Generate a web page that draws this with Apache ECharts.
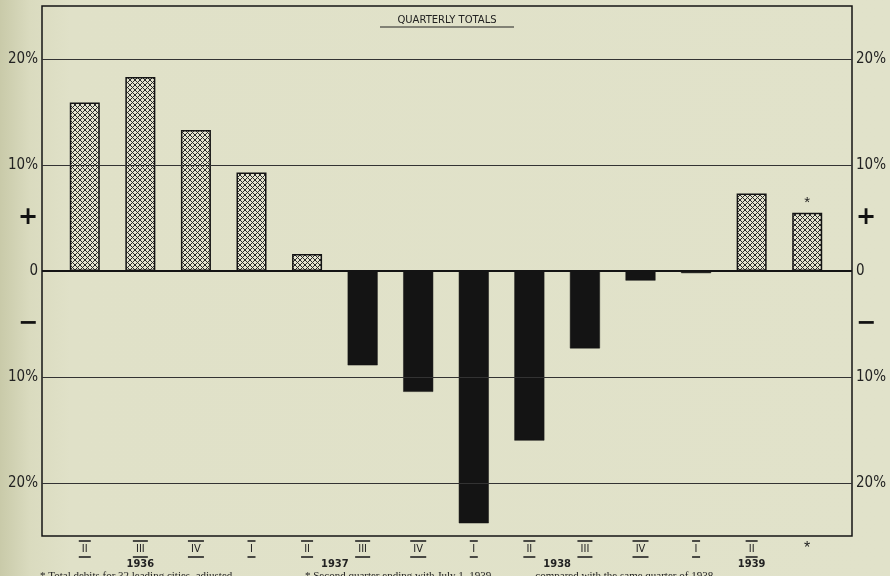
<!DOCTYPE html>
<html>
<head>
<meta charset="utf-8">
<script src="https://cdn.jsdelivr.net/npm/echarts@6/dist/echarts.min.js"></script>
<style>
  html, body { margin: 0; padding: 0; }
  body { background: linear-gradient(to right, #c9caa9 0px, #dadbbf 30px, #e0e1c8 70px, #e1e2ca 100%); }
  #chart { width: 890px; height: 576px; }
</style>
</head>
<body>
<div id="chart"></div>
<script>
// quarters from II-1936 to the starred estimate
const quarters = ['II', 'III', 'IV', 'I', 'II', 'III', 'IV', 'I', 'II', 'III', 'IV', 'I', 'II', '*']
const changes = [15.9, 18.3, 13.3, 9.3, 1.6, -8.9, -11.4, -23.8, -16.0, -7.3, -0.9, -0.2, 7.3, 5.5]
const starIndex = 13
// year label spans (first and last category index under the label)
const years = ['1936', '1937', '1938', '1939']
const yearSpans = [[1, 1], [4, 5], [8, 9], [12, 12]]
const gridValues = [20, 10, -10, -20]
const tickText = { 20: '20%', 10: '10%', 5: '{s|+}', 0: '0', '-5': '{s|−}', '-10': '10%', '-20': '20%' }

const ink = '#141414'
const barW = { I: 8, II: 12, III: 15, IV: 16 }

// crosshatch fill for the positive bars
function hatch() {
  const n = 5
  const c = document.createElement('canvas')
  c.width = n; c.height = n
  const g = c.getContext('2d')
  g.fillStyle = '#e4e4cf'
  g.fillRect(0, 0, n, n)
  g.strokeStyle = '#2a2a2a'
  g.lineWidth = 1
  g.beginPath()
  g.moveTo(0, 0); g.lineTo(n, n)
  g.moveTo(n, 0); g.lineTo(0, n)
  g.stroke()
  return c
}
const pattern = { image: hatch(), repeat: 'repeat' }

const chart = echarts.init(document.getElementById('chart'))

const axisLabel = {
  color: '#222', fontFamily: 'DejaVu Sans Condensed', fontSize: 15,
  formatter: v => tickText[v] || '',
  rich: { s: { fontSize: 24, fontWeight: 'bold', fontFamily: 'DejaVu Sans', color: '#111' } }
}

// roman numeral with a rule above and below
const quarterRich = { t: { fontSize: 11, fontFamily: 'DejaVu Sans Condensed', color: '#222', lineHeight: 14 },
  a: { fontSize: 16, color: '#222', lineHeight: 14, padding: [4, 0, 0, 0] } }
Object.keys(barW).forEach(k => {
  quarterRich['r' + k] = { width: barW[k], height: 1.6, lineHeight: 2, backgroundColor: '#222' }
})
function quarterLabel(v) {
  if (v === '*') return '{a|*}'
  return `{r${v}|}\n{t|${v}}\n{r${v}|}`
}

chart.setOption({
  animation: false,
  grid: [
    { left: 42, right: 38, top: 6, bottom: 40, show: true, borderColor: ink, borderWidth: 1.5 },
    { left: 57, right: 55, top: 6, bottom: 40 }
  ],
  xAxis: [
    { gridIndex: 0, type: 'value', min: 0, max: 1, show: false },
    {
      gridIndex: 1, type: 'category', data: quarters,
      axisLine: { show: false }, axisTick: { show: false }, splitLine: { show: false },
      axisLabel: { margin: 4, formatter: quarterLabel, rich: quarterRich }
    }
  ],
  yAxis: [
    { gridIndex: 0, type: 'value', min: -25, max: 25, interval: 5, position: 'left',
      axisLine: { show: false }, axisTick: { show: false }, splitLine: { show: false },
      axisLabel: { ...axisLabel, margin: 4 } },
    { gridIndex: 0, type: 'value', min: -25, max: 25, interval: 5, position: 'right',
      axisLine: { show: false }, axisTick: { show: false }, splitLine: { show: false },
      axisLabel: { ...axisLabel, margin: 4 } },
    { gridIndex: 1, type: 'value', min: -25, max: 25, show: false }
  ],
  series: [
    {
      type: 'line', xAxisIndex: 0, yAxisIndex: 0, data: [], z: 1, silent: true,
      markLine: {
        silent: true, symbol: 'none', label: { show: false },
        lineStyle: { color: '#333', width: 1, type: 'solid' },
        data: gridValues.map(v => ({ yAxis: v }))
      }
    },
    {
      type: 'bar', xAxisIndex: 1, yAxisIndex: 2, barWidth: 30, z: 3,
      data: changes.map((v, i) => ({
        value: v,
        itemStyle: v > 0
          ? { color: pattern, borderColor: ink, borderWidth: 1.5 }
          : { color: ink, borderColor: ink, borderWidth: 0.5 },
        label: i === starIndex
          ? { show: true, position: 'top', formatter: '*', fontSize: 15, color: '#222', distance: 2 }
          : { show: false }
      }))
    },
    {
      type: 'line', xAxisIndex: 0, yAxisIndex: 0, data: [[0, 0], [1, 0]], z: 5, silent: true,
      symbol: 'none', lineStyle: { color: ink, width: 2 }
    }
  ]
})

// title, year labels and footnote
const yearGraphics = years.map((y, i) => {
  const [a, b] = yearSpans[i]
  const xa = chart.convertToPixel({ xAxisIndex: 1 }, a)
  const xb = chart.convertToPixel({ xAxisIndex: 1 }, b)
  return {
    type: 'text', x: (xa + xb) / 2, y: 564,
    style: { text: y, fill: '#222', font: 'bold 11px "DejaVu Sans Condensed"', align: 'center', verticalAlign: 'middle' }
  }
})

chart.setOption({
  graphic: [
    { type: 'text', x: 447, y: 20,
      style: { text: 'QUARTERLY TOTALS', fill: '#222', font: '10px "DejaVu Sans"', align: 'center', verticalAlign: 'middle' } },
    { type: 'line', shape: { x1: 380, y1: 27, x2: 514, y2: 27 }, style: { stroke: '#222', lineWidth: 1.2 } },
    ...yearGraphics,
    { type: 'text', x: 40, y: 571,
      style: { text: '* Total debits for 32 leading cities, adjusted', fill: '#222', font: '11px "Liberation Serif"' } },
    { type: 'text', x: 305, y: 571,
      style: { text: '* Second quarter ending with July 1, 1939                compared with the same quarter of 1938', fill: '#222', font: '11px "Liberation Serif"' } }
  ]
})
</script>
</body>
</html>
